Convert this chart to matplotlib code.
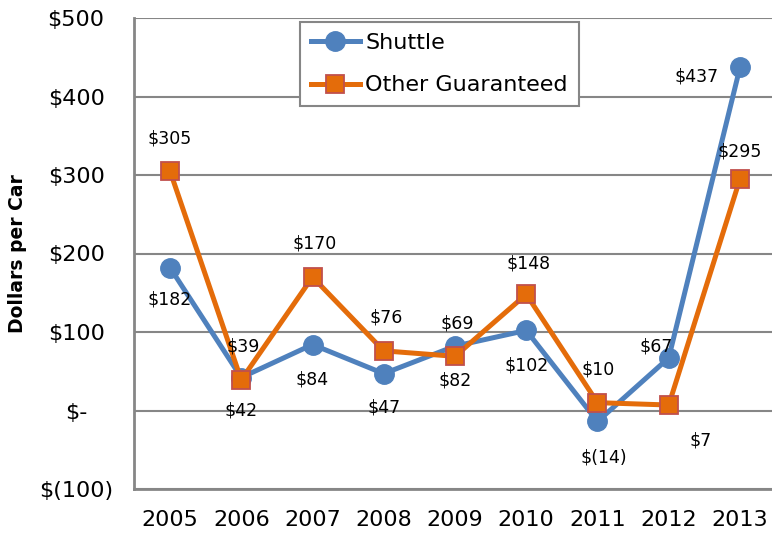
import matplotlib
matplotlib.use("Agg")
import matplotlib.pyplot as plt

# Datos
anios = [2005, 2006, 2007, 2008, 2009, 2010, 2011, 2012, 2013]
shuttle = [182, 42, 84, 47, 82, 102, -14, 67, 437]
otros = [305, 39, 170, 76, 69, 148, 10, 7, 295]
ticks_y = [-100, 0, 100, 200, 300, 400, 500]
etiquetas_y = ["$(100)", "$-", "$100", "$200", "$300", "$400", "$500"]


def formato(v):
    return f"$({abs(v)})" if v < 0 else f"${v}"


# desplazamientos de las etiquetas (en pixeles, y hacia abajo positiva)
desp_shuttle = [(0, 32), (0, 33), (0, 35), (0, 34), (0, 34), (0, 35), (6, 36), (-13, -11), (-43, 9)]
desp_otros = [(0, -33), (2, -33), (2, -34), (2, -33), (2, -33), (2, -31), (1, -33), (32, 35), (0, -27)]

azul = "#4F81BD"
naranja = "#E46C0A"
rojo = "#C0504D"
gris = "#868686"

fig = plt.figure(figsize=(7.72, 5.33), dpi=100)
ax = fig.add_axes([134.4 / 772, (533 - 489) / 533, 641.2 / 772, 471 / 533])

x = list(range(len(anios)))
ax.plot(x, shuttle, color=azul, linewidth=3.6, marker="o", markersize=14,
        markerfacecolor=azul, markeredgecolor=azul, label="Shuttle", zorder=3)
ax.plot(x, otros, color=naranja, linewidth=3.6, marker="s", markersize=13,
        markerfacecolor=naranja, markeredgecolor=rojo, markeredgewidth=1.3,
        label="Other Guaranteed", zorder=4)

px = 72 / 100  # pixeles a puntos
for i in x:
    dx, dy = desp_shuttle[i]
    ax.annotate(formato(shuttle[i]), (i, shuttle[i]), xytext=(dx * px, -dy * px),
                textcoords="offset points", ha="center", va="center", fontsize=12.5, zorder=5)
    dx, dy = desp_otros[i]
    ax.annotate(formato(otros[i]), (i, otros[i]), xytext=(dx * px, -dy * px),
                textcoords="offset points", ha="center", va="center", fontsize=12.5, zorder=5)

ax.set_xlim(-0.5, len(anios) - 0.5)
ax.set_ylim(-100, 500)
ax.set_xticks(x)
ax.set_xticklabels([str(a) for a in anios], fontsize=16)
ax.set_yticks(ticks_y)
ax.set_yticklabels(etiquetas_y, fontsize=16, ha="center")
ax.tick_params(axis="y", length=0, pad=42)
ax.tick_params(axis="x", length=0, pad=15)

ax.grid(axis="y", color=gris, linewidth=1.5, zorder=0)
ax.set_axisbelow(True)
for lado in ["top", "right"]:
    ax.spines[lado].set_visible(False)
for lado in ["left", "bottom"]:
    ax.spines[lado].set_color(gris)
    ax.spines[lado].set_linewidth(2)

ax.set_ylabel("Dollars per Car", fontsize=13.5, fontweight="bold", labelpad=0)
ax.yaxis.set_label_coords(-(134.4 - 27) / 641.2, 0.5)

leg = ax.legend(loc="upper left", bbox_to_anchor=(0.258, 0.9915), fontsize=16,
                handlelength=2.2, fancybox=False, framealpha=1, edgecolor=gris,
                borderpad=0.5, labelspacing=1.0, handletextpad=0.25, borderaxespad=0)
leg.get_frame().set_linewidth(1.5)

fig.savefig("out.png", dpi=100)
